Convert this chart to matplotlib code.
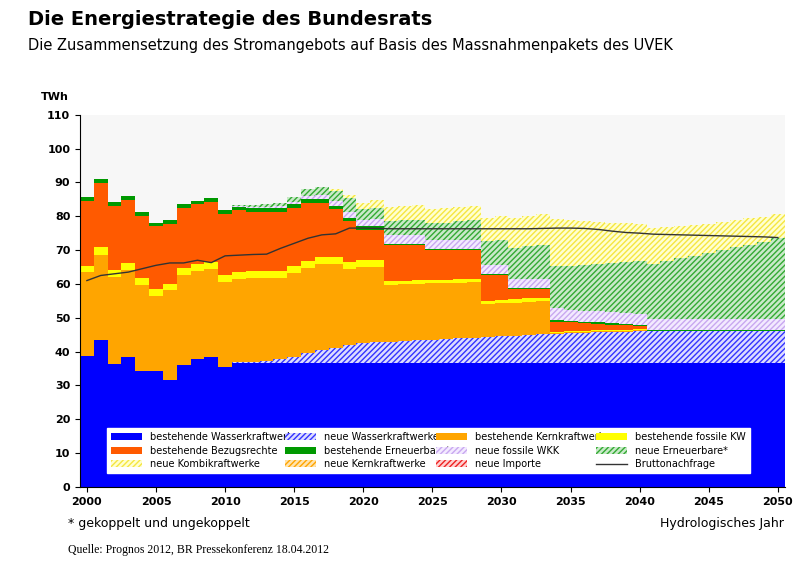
import matplotlib
matplotlib.use("Agg")
import matplotlib.pyplot as plt
import numpy as np

years = list(range(2000, 2051))
wasser = [38.7,43.5,36.4,38.4,34.3,34.4,31.7,36.1,37.8,38.4,35.6] + [36.5]*40
neue_wasser = [0]*11 + [0.3,0.5,0.7,1.2,2,3,4,4.5,5.5,6,6.2,6.4,6.6,6.8,7,7.2,7.4,7.6,7.8,8,8.2,8.4,8.6,8.8,9,9.1,9.2,9.3,9.4] + [9.5]*11
kern = [24.7,25.1,25.7,25.8,25.5,22.1,26.4,26.6,26.1,26.1,25.1,24.7,24.8,24.6,24.1,24.8,25.3,25.5,25,22.5,22.5,22.3,
        16.9,16.9,16.8,16.7,16.6,16.5,16.4,9.8,9.8,9.8,9.8,9.8] + [0.3]*7 + [0]*10
fossil = [2,2.4] + [2]*20 + [1]*12 + [0.3]*7 + [0]*10
bezug = [19.2,18.9,19,18.7,18.4,18.5,17.7,17.8,17.7,17.8,18.1,18.2,17.5,17.5,17.5,17.2,17.2,16,14,12,9,9,
         10.7,10.5,10.4,8.8,8.7,8.6,8.5,7.4,7.2,3,2.8,2.6,3,2.6,2.3,2,1.6,1.3,1] + [0]*10
ern = [1]*22 + [0.4]*19 + [0.3]*10
neue_fossil = [0]*11 + [0.3,0.4,0.5,0.6,0.8,1,1.2,1.5,1.8,2,2.2] + [2.5]*7 + [2.7]*5 + [3.5] + [3.2]*16
neue_ern = [0]*11 + [0.3,0.5,0.8,1,1.5,2,2.5,3,4,3,3.2,4.2,4.4,4.6,5,5.2,5.6,6,7,7.5,9,9.5,10,
                     12.5,13,13.5,14,14.5,15,15.5,16.5,17.3,18.1,18.9,19.7,20.5,21.3,22.1,22.9,24]
kombi = [0]*18 + [0.5,1,2,2.5] + [4.2]*7 + [7,7,9,9,9] + [14,13.5,13,12.5,12,11.5,11,
         10.5,10,9.5,9,8.5,8.2,8,7.8,7.5,7.2]
neue_kern = [0]*51
neue_import = [0]*51
nachfrage = [61,62.5,63,63.5,64.5,65.5,66.2,66.2,67,66.3,68.3,68.5,68.7,68.8,70.5,72,73.5,74.5,74.8,76.5,76.5,
             76.4,76.3,76.3,76.3,76.3,76.3,76.3,76.3,76.3,76.3,76.3,76.3,76.4,76.5,76.5,76.4,76.1,75.6,75.2,75,
             74.7,74.6,74.5,74.4,74.3,74.2,74.1,74,73.9,73.7]

layers = [
    ("bestehende Wasserkraftwerke", wasser, "#0000ff", None, None),
    ("neue Wasserkraftwerke", neue_wasser, "#dcdcff", "#3333ff", "//////"),
    ("bestehende Kernkraftwerke", kern, "#ffa500", None, None),
    ("bestehende fossile KW", fossil, "#ffff00", None, None),
    ("bestehende Bezugsrechte", bezug, "#ff5a00", None, None),
    ("bestehende Erneuerbare*", ern, "#009900", None, None),
    ("neue fossile WKK", neue_fossil, "#f3eaff", "#c8a8f0", "//////"),
    ("neue Erneuerbare*", neue_ern, "#c9e9c9", "#33aa33", "//////"),
    ("neue Kombikraftwerke", kombi, "#ffffd0", "#f5e640", "//////"),
    ("neue Kernkraftwerke", neue_kern, "#ffe4b0", "#ffa500", "//////"),
    ("neue Importe", neue_import, "#ffd0d0", "#ee2222", "//////"),
]

plt.rcParams['hatch.linewidth'] = 1.0
fig = plt.figure(figsize=(8, 5.65), dpi=100)
ax = fig.add_axes([0.1, 0.138, 0.881, 0.659])
ax.set_facecolor("#f7f7f7")
x = np.array(years)
bottom = np.zeros(len(years))
handles = {}
for name, vals, fc, hc, hatch in layers:
    v = np.array(vals, dtype=float)
    if hatch:
        b = ax.bar(x, v, width=1.0, bottom=bottom, color=fc, edgecolor=hc, hatch=hatch, linewidth=0)
    else:
        b = ax.bar(x, v, width=1.0, bottom=bottom, color=fc, linewidth=0)
    handles[name] = b
    bottom += v
ln, = ax.plot(x, nachfrage, color="#333333", lw=1)
handles["Bruttonachfrage"] = ln

# row-major order as in reference; matplotlib fills columns, so transpose
rows = [["bestehende Wasserkraftwerke","neue Wasserkraftwerke","bestehende Kernkraftwerke","bestehende fossile KW"],
        ["bestehende Bezugsrechte","bestehende Erneuerbare*","neue fossile WKK","neue Erneuerbare*"],
        ["neue Kombikraftwerke","neue Kernkraftwerke","neue Importe","Bruttonachfrage"]]
order = [rows[r][c] for c in range(4) for r in range(3)]
leg = ax.legend([handles[k] for k in order], order, ncol=4, loc="lower left",
                bbox_to_anchor=(0.032, 0.025, 0.925, 0.14), mode="expand",
                fontsize=7, frameon=True, fancybox=False, edgecolor="white", framealpha=1,
                handlelength=3.2, handleheight=0.7, columnspacing=1.0, labelspacing=0.35, borderpad=0.4)

ax.set_xlim(1999.5, 2050.5)
ax.set_ylim(0, 110)
ax.set_yticks(range(0, 111, 10))
ax.set_xticks(range(2000, 2051, 5))
ax.tick_params(labelsize=8)
for t in ax.get_xticklabels() + ax.get_yticklabels():
    t.set_fontweight("bold")
for s in ["top", "right"]:
    ax.spines[s].set_visible(False)
ax.text(-0.055, 1.04, "TWh", transform=ax.transAxes, fontsize=8, fontweight="bold")

fig.text(0.035, 0.955, "Die Energiestrategie des Bundesrats", fontsize=14, fontweight="bold")
fig.text(0.035, 0.912, "Die Zusammensetzung des Stromangebots auf Basis des Massnahmenpakets des UVEK", fontsize=10.5)
fig.text(0.085, 0.068, "* gekoppelt und ungekoppelt", fontsize=9)
fig.text(0.98, 0.068, "Hydrologisches Jahr", fontsize=9, ha="right")
fig.text(0.085, 0.022, "Quelle: Prognos 2012, BR Pressekonferenz 18.04.2012", fontsize=8.5, family="Liberation Serif")
fig.savefig("out.png", dpi=100)
